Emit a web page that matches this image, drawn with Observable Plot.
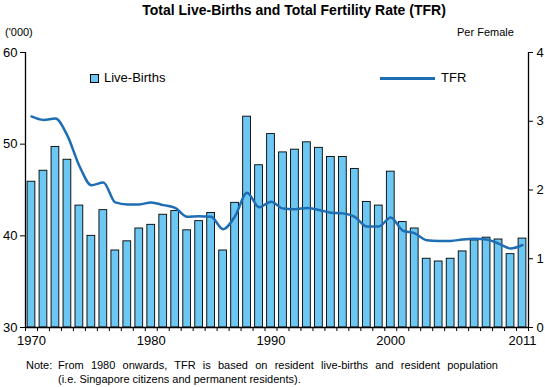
<!DOCTYPE html>
<html>
<head>
<meta charset="utf-8">
<script src="https://cdn.jsdelivr.net/npm/d3@7"></script>
<script src="https://cdn.jsdelivr.net/npm/@observablehq/plot@0.6"></script>
<style>
  body { margin: 0; background: #fff; font-family: "Liberation Sans", Arial, sans-serif; }
  #wrap { position: relative; width: 545px; height: 387px; overflow: hidden; }
  #chart { position: absolute; left: 0; top: 0; }
  .t { position: absolute; white-space: nowrap; color: #000; }
  #title { left: 0; width: 588px; top: 2px; text-align: center; font-weight: bold; font-size: 14px; }
  #unitL { left: 5px; top: 26px; font-size: 11px; }
  #unitR { left: 457px; top: 26px; font-size: 11px; }
  #legSq { position: absolute; left: 90px; top: 74px; width: 7px; height: 7px; background: #6cc8f2; border: 1px solid #000; }
  #legB { left: 104px; top: 70px; font-size: 13px; }
  #legLn { position: absolute; left: 380px; top: 77px; width: 55px; height: 3px; background: #1f6db3; }
  #legT { left: 441px; top: 70px; font-size: 13px; }
  #note { position: absolute; left: 26px; top: 358px; width: 472px; font-size: 11px; line-height: 14px; }
  #note .lbl { position: absolute; left: 0; top: 0; }
  #note .l1 { margin-left: 32px; text-align: justify; text-align-last: justify; white-space: nowrap; }
  #note .l2 { margin-left: 32px; white-space: nowrap; }
</style>
</head>
<body>
<div id="wrap">
  <div id="chart"></div>
  <div class="t" id="title">Total Live-Births and Total Fertility Rate (TFR)</div>
  <div class="t" id="unitL">('000)</div>
  <div class="t" id="unitR">Per Female</div>
  <div id="legSq"></div>
  <div class="t" id="legB">Live-Births</div>
  <div id="legLn"></div>
  <div class="t" id="legT">TFR</div>
  <div id="note">
    <span class="lbl">Note:</span>
    <div class="l1">From 1980 onwards, TFR is based on resident live-births and resident population</div>
    <div class="l2">(i.e. Singapore citizens and permanent residents).</div>
  </div>
</div>
<script>
const years = d3.range(1970, 2012);
const births = [45.9, 47.1, 49.7, 48.3, 43.3, 40.0, 42.8, 38.4, 39.4, 40.8,
                41.2, 42.3, 42.7, 40.6, 41.6, 42.5, 38.4, 43.6, 53.0, 47.7,
                51.1, 49.1, 49.4, 50.2, 49.6, 48.6, 48.6, 47.3, 43.7, 43.3,
                47.0, 41.5, 40.8, 37.5, 37.2, 37.5, 38.3, 39.5, 39.8, 39.6,
                38.0, 39.7];
const tfr = [3.07, 3.02, 3.04, 2.79, 2.35, 2.07, 2.11, 1.82, 1.79, 1.79,
             1.82, 1.78, 1.74, 1.61, 1.62, 1.61, 1.43, 1.62, 1.96, 1.75,
             1.83, 1.73, 1.72, 1.74, 1.71, 1.67, 1.66, 1.61, 1.47, 1.47,
             1.60, 1.41, 1.37, 1.27, 1.26, 1.26, 1.28, 1.29, 1.28, 1.22,
             1.15, 1.20];
const yearLabels = [1970, 1980, 1990, 2000, 2011];
const leftTicks = [30, 40, 50, 60];
const rightTicks = [0, 1, 2, 3, 4];

const birthsMin = 30, birthsMax = 60, tfrMax = 4;
const toLeft = v => birthsMin + v * (birthsMax - birthsMin) / tfrMax;

const data = years.map((year, i) => ({year, births: births[i], tfr: tfr[i]}));
const bounds = d3.range(years[0] - 0.5, years[years.length - 1] + 1);

const chart = Plot.plot({
  width: 545,
  height: 355,
  marginTop: 52,
  marginBottom: 28,
  marginLeft: 25,
  marginRight: 17,
  style: {fontFamily: "Liberation Sans, Arial, sans-serif", fontSize: "13px", color: "#000", background: "#fff"},
  x: {type: "linear", domain: [years[0] - 0.5, years[years.length - 1] + 0.5], label: null},
  y: {domain: [birthsMin, birthsMax], label: null},
  marks: [
    Plot.rectY(data, {
      x1: d => d.year - 0.5, x2: d => d.year + 0.5, y1: birthsMin, y2: "births",
      insetLeft: 2.1, insetRight: 2.1,
      fill: "#6cc8f2", stroke: "#000", strokeWidth: 0.9
    }),
    Plot.line(data, {x: "year", y: d => toLeft(d.tfr), stroke: "#1f6db3", strokeWidth: 2.5, curve: "monotone-x"}),
    Plot.ruleY([birthsMin], {stroke: "#000", strokeWidth: 1.3}),
    Plot.ruleX([bounds[0], bounds[bounds.length - 1]], {stroke: "#000", strokeWidth: 1.3}),
    Plot.axisX(bounds, {tickSize: 4, tickFormat: () => "", stroke: "#000", label: null}),
    Plot.axisX(yearLabels, {tickSize: 0, tickPadding: 8, tickFormat: d => String(d), fontSize: 13, label: null}),
    Plot.axisY(leftTicks, {anchor: "left", tickSize: 5, tickPadding: 3, fontSize: 13, label: null}),
    Plot.axisY(rightTicks.map(toLeft), {anchor: "right", tickSize: 4, tickPadding: 4, fontSize: 13, label: null,
      tickFormat: d => String(Math.round((d - birthsMin) * tfrMax / (birthsMax - birthsMin)))})
  ]
});
document.getElementById("chart").appendChild(chart);
</script>
</body>
</html>
